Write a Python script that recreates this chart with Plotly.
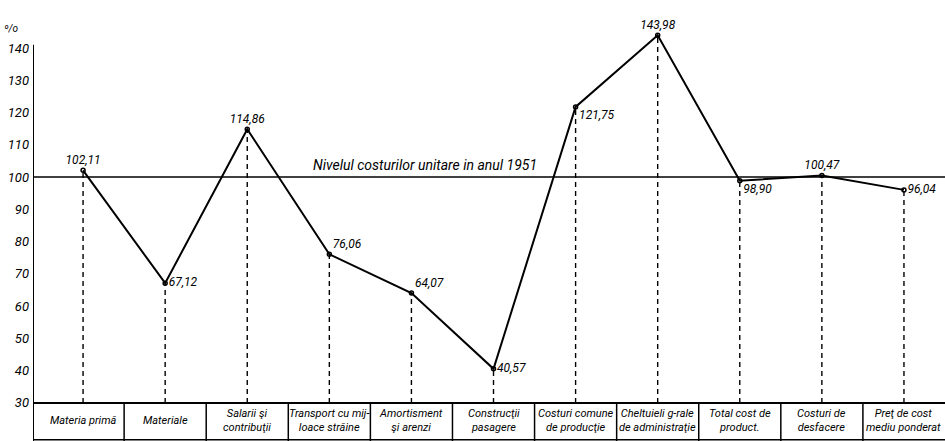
import plotly.graph_objects as go

# indicii costurilor unitare, in % fata de anul 1951
categorii = [
    "Materia primă",
    "Materiale",
    "Salarii şi<br>contribuţii",
    "Transport cu mij-<br>loace străine",
    "Amortisment<br>şi arenzi",
    "Construcţii<br>pasagere",
    "Costuri comune<br>de producţie",
    "Cheltuieli g-rale<br>de administraţie",
    "Total cost de<br>product.",
    "Costuri de<br>desfacere",
    "Preţ de cost<br>mediu ponderat",
]
valori = [102.11, 67.12, 114.86, 76.06, 64.07, 40.57, 121.75, 143.98, 98.90, 100.47, 96.04]
etichete = ["102,11", "67,12", "114,86", "76,06", "64,07", "40,57",
            "121,75", "143,98", "98,90", "100,47", "96,04"]
pozitii_text = ["top center", "middle right", "top center", "top right", "top right", "middle right",
                "bottom right", "top center", "bottom right", "top center", "middle right"]
y_ticks = [30, 40, 50, 60, 70, 80, 90, 100, 110, 120, 130, 140]
nivel_baza = 100
titlu_baza = "Nivelul costurilor unitare in anul 1951"

FONT = "Liberation Sans Narrow, Roboto, Liberation Sans, sans-serif"
x = list(range(len(categorii)))
x_min, x_max = -0.61, len(categorii) - 0.5
y_min, y_max = 18.2, 154.9
y_jos = y_ticks[0]

fig = go.Figure()

# linii punctate de la fiecare punct pana la baza
dash_x, dash_y = [], []
for xi, v in zip(x, valori):
    dash_x += [xi, xi, None]
    dash_y += [y_jos, v, None]
fig.add_trace(go.Scatter(x=dash_x, y=dash_y, mode="lines",
                         line=dict(color="black", width=1.4, dash="5px,4px"),
                         hoverinfo="skip", showlegend=False))

fig.add_trace(go.Scatter(
    x=x, y=valori, mode="lines+markers+text",
    line=dict(color="black", width=2),
    marker=dict(symbol="circle-open", size=4, color="black", line=dict(width=1.5)),
    text=etichete, textposition=pozitii_text,
    textfont=dict(family=FONT, size=12, color="black", style="italic"),
    showlegend=False,
))

shapes = []
# axa verticala
shapes.append(dict(type="line", xref="x", yref="y", x0=x_min, x1=x_min, y0=y_min, y1=y_ticks[-1] + 1,
                   line=dict(color="black", width=2)))
# nivelul de baza 100
shapes.append(dict(type="line", xref="x", yref="y", x0=x_min, x1=x_max, y0=nivel_baza, y1=nivel_baza,
                   line=dict(color="black", width=1.5)))
# tabelul de jos
shapes.append(dict(type="line", xref="x", yref="y", x0=x_min, x1=x_max, y0=y_jos, y1=y_jos,
                   line=dict(color="black", width=2)))
shapes.append(dict(type="line", xref="x", yref="y", x0=x_min, x1=x_max, y0=y_min + 0.4, y1=y_min + 0.4,
                   line=dict(color="black", width=1.5)))
for xi in x[:-1]:
    shapes.append(dict(type="line", xref="x", yref="y", x0=xi + 0.5, x1=xi + 0.5, y0=y_min, y1=y_jos,
                       line=dict(color="black", width=1.5)))

annotations = []
for xi, c in zip(x, categorii):
    annotations.append(dict(x=xi, y=(y_jos + y_min) / 2 + 0.4, xref="x", yref="y", text=c,
                            showarrow=False, yanchor="middle",
                            font=dict(family=FONT, size=11, color="black", style="italic")))
annotations.append(dict(x=4.17, y=nivel_baza + 0.6, xref="x", yref="y", text=titlu_baza,
                        showarrow=False, yanchor="bottom",
                        font=dict(family=FONT, size=14, color="black", style="italic")))
annotations.append(dict(x=-0.014, y=146.2, xref="paper", yref="y", text="º/o",
                        showarrow=False, xanchor="right",
                        font=dict(family=FONT, size=10, color="black", style="italic")))

fig.update_layout(
    width=945, height=441,
    margin=dict(l=33, r=0, t=0, b=0),
    paper_bgcolor="white", plot_bgcolor="white",
    shapes=shapes, annotations=annotations,
    xaxis=dict(range=[x_min, x_max], visible=False),
    yaxis=dict(range=[y_min, y_max], tickvals=y_ticks, showgrid=False, zeroline=False,
               showline=False, ticks="", ticklabelstandoff=3,
               tickfont=dict(family=FONT, size=13, color="black", style="italic")),
)

# pagina fara marginea implicita a body-ului
fig.write_html("out.html", config={"displayModeBar": False},
               post_script="document.body.style.margin='0';")
